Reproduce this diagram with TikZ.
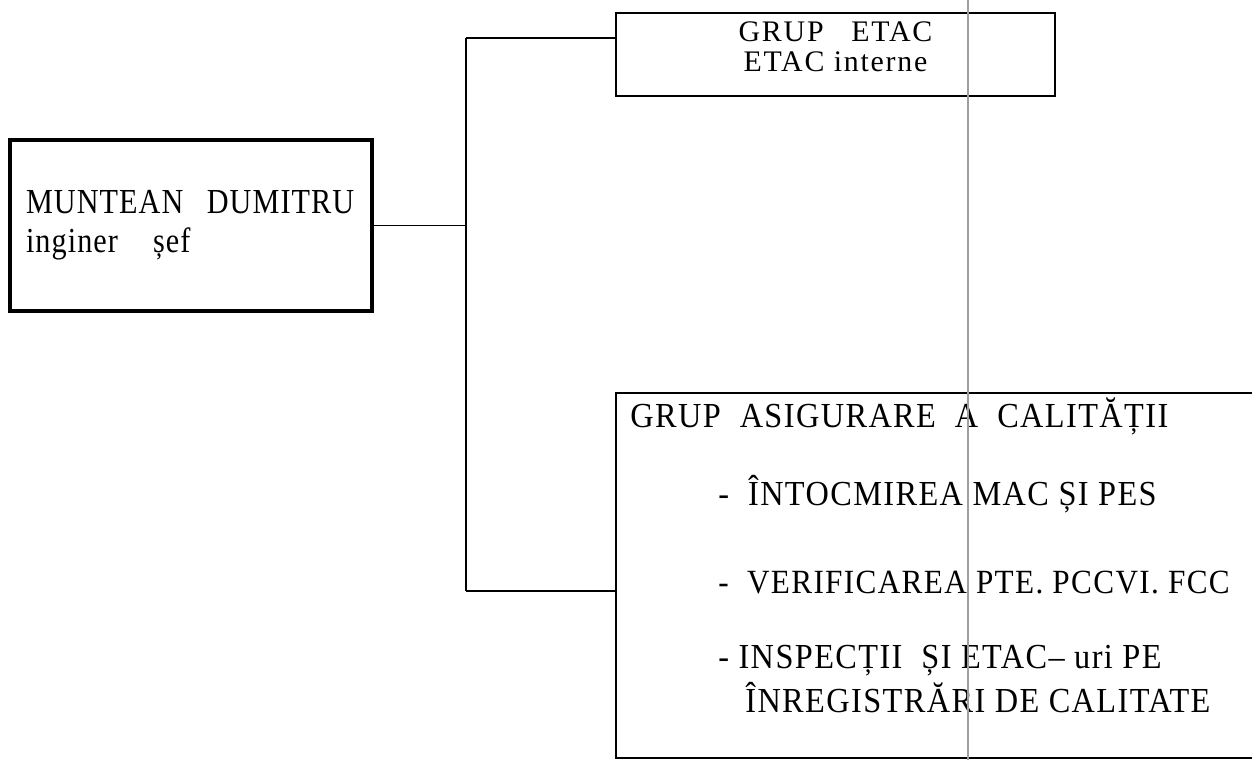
\documentclass[tikz,border=0pt]{standalone}
\usepackage{fontspec}
\setmainfont{Liberation Serif}
\newfontfamily\ingust[FakeStretch=0.86, LetterSpace=3]{Liberation Serif}
\newfontfamily\mediu[FakeStretch=0.92, LetterSpace=4]{Liberation Serif}
\newfontfamily\rarit[LetterSpace=6]{Liberation Serif}
\usetikzlibrary{positioning}

\begin{document}
\begin{tikzpicture}[x=0.02cm, y=-0.02cm,
  cutie/.style={draw, line width=0.8pt, inner sep=0pt},
  legatura/.style={line width=0.8pt},
  eticheta/.style={inner sep=0pt, anchor=base west, font=\mediu\fontsize{20}{24}\selectfont},
  scanare/.style={gray!75, line width=0.9pt}]
\useasboundingbox (0,0) rectangle (1252,760);
\clip (0,0) rectangle (1252,760);

\node[cutie, line width=2.2pt, minimum width=7.24cm, minimum height=3.42cm, text width=6.6cm, inner xsep=0.32cm, align=left, font=\ingust\fontsize{20}{22.2}\selectfont] (sef) at (191,225.5) {MUNTEAN~~DUMITRU\\inginer~~~șef};
\node[cutie, minimum width=8.78cm, minimum height=1.66cm, text depth=0.3cm, align=center, font=\rarit\fontsize{17}{17}\selectfont] (etac) at (835.5,54.5) {GRUP~~~ETAC\\ETAC interne};
\node[cutie, minimum width=13.68cm, minimum height=7.3cm] (calitate) at (958,575.5) {};

\node[eticheta] (titlu) at (630,428) {GRUP~~ASIGURARE~~A~~CALITĂȚII};
\node[eticheta] (mac) at (718,505) {-~~ÎNTOCMIREA MAC ȘI PES};
\node[eticheta, font=\mediu\fontsize{19.3}{24}\selectfont] (pte) at (718,593) {-~~VERIFICAREA PTE. PCCVI. FCC};
\node[eticheta] (inspectii) at (718,668) {- INSPECȚII~~ȘI ETAC– uri PE};
\node[eticheta] (inregistrari) at (745,712) {ÎNREGISTRĂRI DE CALITATE};

% ramificatie
\coordinate (nod) at (466,222);
\coordinate (sus) at (466,38);
\coordinate (jos) at (466,591);
\draw[legatura] (sef.east) -- (sef.east -| nod);
\draw[legatura] (sus) -- (jos);
\draw[legatura] (sus) -- (sus -| etac.west);
\draw[legatura] (jos) -- (jos -| calitate.west);

\draw[scanare] (968,0) -- (968,760);
\end{tikzpicture}
\end{document}
